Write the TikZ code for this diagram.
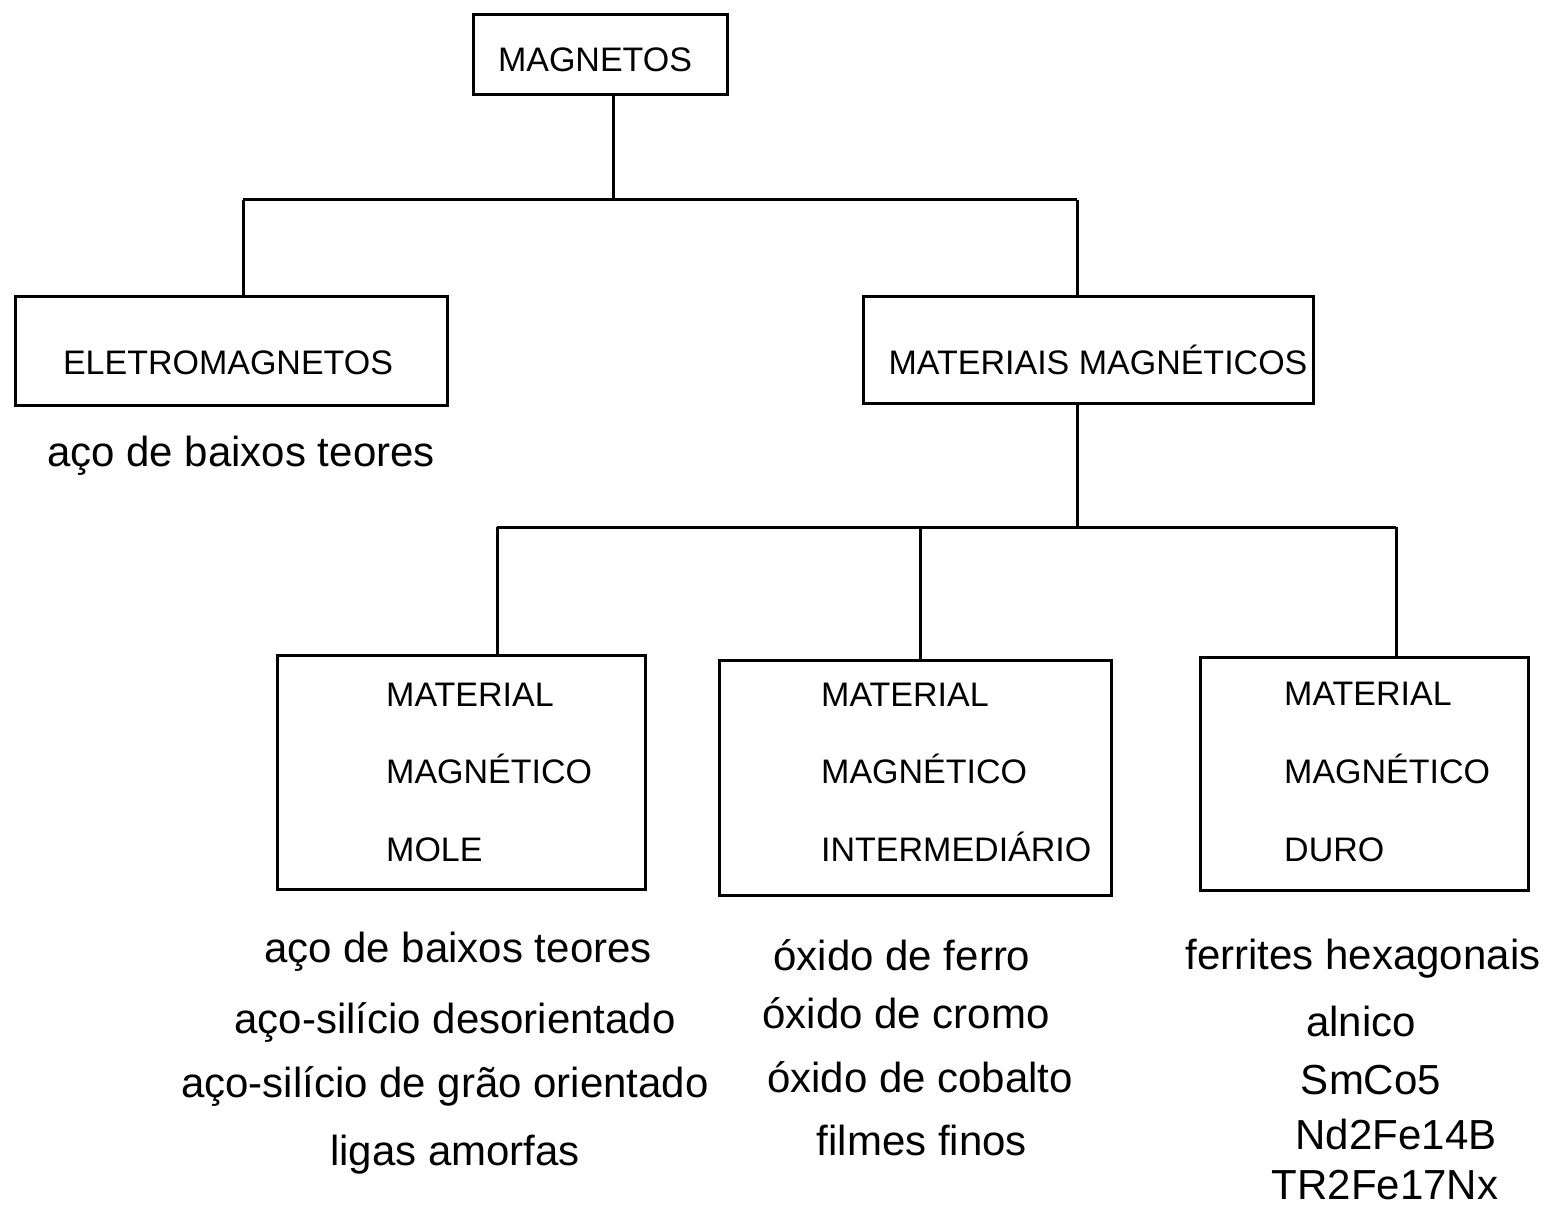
\documentclass[tikz,border=0pt]{standalone}
\usepackage{fontspec}
\setmainfont{Liberation Sans}
\begin{document}
\begin{tikzpicture}[x=1pt,y=-1pt,
  box/.style={draw,line width=3pt,rectangle,inner sep=0pt},
  conn/.style={line width=3pt},
  blabel/.style={anchor=base,inner sep=0pt,font=\fontsize{34}{40}\selectfont},
  llabel/.style={anchor=base west,inner sep=0pt,font=\fontsize{34}{40}\selectfont},
  item/.style={anchor=base,inner sep=0pt,font=\fontsize{42}{48}\selectfont}]
\useasboundingbox (0,0) rectangle (1547,1206);
% boxes
\node[box,minimum width=254pt,minimum height=80pt] (mag) at (600,55) {};
\node[box,minimum width=432pt,minimum height=108pt] (ele) at (231,351) {};
\node[box,minimum width=450pt,minimum height=106pt] (mat) at (1088,350) {};
\node[box,minimum width=368pt,minimum height=234pt] (mole) at (461,772) {};
\node[box,minimum width=392pt,minimum height=235pt] (inter) at (915,777.5) {};
\node[box,minimum width=328pt,minimum height=233pt] (duro) at (1364,773.5) {};
% box labels
\node[blabel] (tmag) at (595,72) {MAGNETOS};
\node[blabel] (tele) at (228,374) {ELETROMAGNETOS};
\node[blabel] (tmat) at (1098,374) {MATERIAIS MAGNÉTICOS};
\node[llabel] (m1) at (386,706) {MATERIAL};
\node[llabel] (m2) at (386,783) {MAGNÉTICO};
\node[llabel] (m3) at (386,861) {MOLE};
\node[llabel] (i1) at (821,706) {MATERIAL};
\node[llabel] (i2) at (821,783) {MAGNÉTICO};
\node[llabel] (i3) at (821,861) {INTERMEDIÁRIO};
\node[llabel] (d1) at (1284,705) {MATERIAL};
\node[llabel] (d2) at (1284,783) {MAGNÉTICO};
\node[llabel] (d3) at (1284,861) {DURO};
% connectors
\coordinate (j0) at (613,200);
\coordinate (jl) at (243,200);
\coordinate (jr) at (1077,200);
\draw[conn] (mag.south -| j0) -- (j0);
\draw[conn] (jl) -- (jr);
\draw[conn] (jl) -- (jl |- ele.north);
\draw[conn] (jr) -- (jr |- mat.north);
\coordinate (k0) at (1077,527);
\coordinate (k1) at (497,527);
\coordinate (k2) at (920,527);
\coordinate (k3) at (1396,527);
\draw[conn] (mat.south -| k0) -- (k0);
\draw[conn] (k1) -- (k3);
\draw[conn] (k1) -- (k1 |- mole.north);
\draw[conn] (k2) -- (k2 |- inter.north);
\draw[conn] (k3) -- (k3 |- duro.north);
% lists
\node[item] (e1) at (241,466) {aço de baixos teores};
\node[item] (l1) at (458,962) {aço de baixos teores};
\node[item] (l2) at (455,1033) {aço-silício desorientado};
\node[item] (l3) at (445,1097) {aço-silício de grão orientado};
\node[item] (l4) at (455,1165) {ligas amorfas};
\node[item] (n1) at (902,970) {óxido de ferro};
\node[item] (n2) at (906,1028) {óxido de cromo};
\node[item] (n3) at (920,1092) {óxido de cobalto};
\node[item] (n4) at (922,1155) {filmes finos};
\node[item] (h1) at (1363,969) {ferrites hexagonais};
\node[item] (h2) at (1361,1036) {alnico};
\node[item] (h3) at (1371,1094) {SmCo5};
\node[item] (h4) at (1396,1149) {Nd2Fe14B};
\node[item] (h5) at (1385,1199) {TR2Fe17Nx};
\end{tikzpicture}
\end{document}
